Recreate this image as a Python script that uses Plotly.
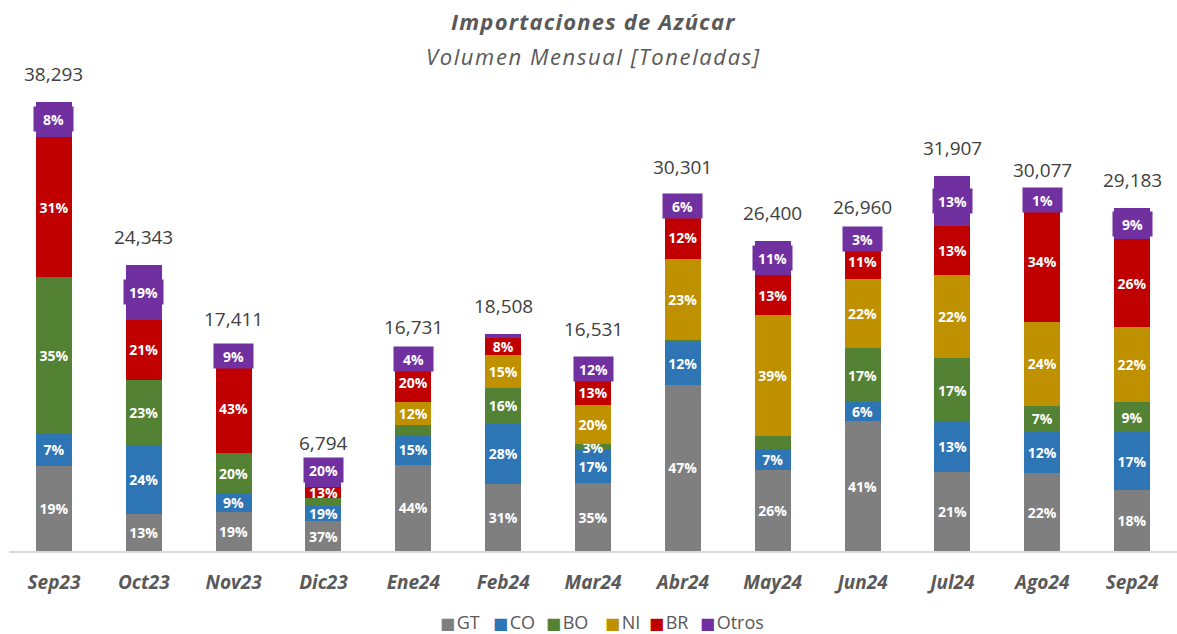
import plotly.graph_objects as go

months = ["Sep23", "Oct23", "Nov23", "Dic23", "Ene24", "Feb24", "Mar24",
          "Abr24", "May24", "Jun24", "Jul24", "Ago24", "Sep24"]
totals = [38293, 24343, 17411, 6794, 16731, 18508, 16531,
          30301, 26400, 26960, 31907, 30077, 29183]

series = ["GT", "CO", "BO", "NI", "BR", "Otros"]
pct_GT = [19, 13, 19, 37, 44, 31, 35, 47, 26, 41, 21, 22, 18]
pct_CO = [7, 24, 9, 19, 15, 28, 17, 12, 7, 6, 13, 12, 17]
pct_BO = [35, 23, 20, 11, 5, 16, 3, 0.6, 4, 17, 17, 7, 9]
pct_NI = [0, 0, 0, 0, 12, 15, 20, 23, 39, 22, 22, 24, 22]
pct_BR = [31, 21, 43, 13, 20, 8, 13, 12, 13, 11, 13, 34, 26]
pct_OT = [8, 19, 9, 20, 4, 2, 12, 6, 11, 3, 13, 1, 9]

# segments whose percentage label is not shown in the original
hidden_labels = [("BO", "Dic23"), ("BO", "Ene24"), ("Otros", "Feb24"),
                 ("BO", "Abr24"), ("BO", "May24")]

colors = {"GT": "#7F7F7F", "CO": "#2E75B6", "BO": "#548235",
          "NI": "#BF9000", "BR": "#C00000", "Otros": "#7030A0"}

pcts = {"GT": pct_GT, "CO": pct_CO, "BO": pct_BO, "NI": pct_NI,
        "BR": pct_BR, "Otros": pct_OT}

sums = [sum(pcts[s][i] for s in series) for i in range(len(months))]
values = {s: [totals[i] * pcts[s][i] / sums[i] for i in range(len(months))]
          for s in series}

FONT = "Open Sans"
PLOT_LEFT_PX, PLOT_W_PX, PLOT_TOP_PX, PLOT_H_PX = 9, 1168, 58, 493

fig = go.Figure()
for s in series:
    texts = []
    for i, m in enumerate(months):
        p = pcts[s][i]
        if p == 0 or (s, m) in hidden_labels or s == "Otros":
            texts.append("")
        else:
            texts.append(f"<b>{p:.0f}%</b>")
    fig.add_trace(go.Bar(
        name=s, x=months, y=values[s],
        marker=dict(color=colors[s], line=dict(width=0)),
        text=texts, textposition="inside", insidetextanchor="middle",
        textangle=0, textfont=dict(family=FONT, size=14, color="#FFFFFF"),
        hoverinfo="skip", showlegend=False,
    ))

annotations = []
# Otros labels drawn in purple boxes (shifted up where they would collide)
otros_label_shift = {"Dic23": 9}
for i, m in enumerate(months):
    if ("Otros", m) in hidden_labels:
        continue
    below = sum(values[s][i] for s in series[:-1])
    yc = below + values["Otros"][i] / 2
    annotations.append(dict(
        x=m, y=yc, xref="x", yref="y", showarrow=False,
        text=f"<b>{pct_OT[i]:.0f}%</b>",
        font=dict(family=FONT, size=14, color="#FFFFFF"),
        bgcolor=colors["Otros"], width=33, height=18, borderpad=3,
        yanchor="middle", yshift=otros_label_shift.get(m, 0),
    ))
# totals above the bars
for i, m in enumerate(months):
    annotations.append(dict(
        x=m, y=totals[i], xref="x", yref="y", showarrow=False,
        text=f"{totals[i]:,}", yanchor="bottom", yshift=13,
        font=dict(family=FONT, size=19, color="#404040"),
    ))
# title and subtitle
annotations.append(dict(
    x=0.5, y=1 + 37 / PLOT_H_PX, xref="paper", yref="paper", showarrow=False,
    text="<span style='letter-spacing:1.2px'><b><i>Importaciones de Azúcar</i></b></span>",
    yanchor="middle",
    font=dict(family=FONT, size=22, color="#595959"),
))
annotations.append(dict(
    x=0.5, y=1 + 2 / PLOT_H_PX, xref="paper", yref="paper", showarrow=False,
    text="<span style='letter-spacing:1.6px'><i>Volumen Mensual [Toneladas]</i></span>",
    yanchor="middle",
    font=dict(family=FONT, size=22, color="#595959"),
))
# legend (square + name), as in the original
legend_left_px = {"GT": 438, "CO": 491, "BO": 544, "NI": 603, "BR": 647, "Otros": 698}
for s in series:
    annotations.append(dict(
        x=(legend_left_px[s] - PLOT_LEFT_PX) / PLOT_W_PX,
        y=(PLOT_TOP_PX + PLOT_H_PX - 622) / PLOT_H_PX,
        xref="paper", yref="paper", showarrow=False, xanchor="left", yanchor="middle",
        text=(f"<span style='color:{colors[s]};font-family:DejaVu Sans;font-size:16px'>■</span>"
              f"<span style='font-size:6px'> </span>{s}"),
        font=dict(family=FONT, size=18, color="#595959"),
    ))

fig.update_layout(
    width=1177, height=634,
    barmode="stack", bargap=0.6,
    plot_bgcolor="#FFFFFF", paper_bgcolor="#FFFFFF",
    margin=dict(l=9, r=0, t=58, b=83),
    uniformtext=dict(minsize=14, mode="show"),
    annotations=annotations,
    showlegend=False,
    font=dict(family=FONT),
)
fig.update_xaxes(
    showline=True, linecolor="#D9D9D9", linewidth=1.5,
    tickfont=dict(family=FONT, size=19, color="#595959"),
    tickprefix="<b><i>", ticksuffix="</i></b>",
    ticks="", showgrid=False, ticklabelstandoff=13,
)
fig.update_yaxes(visible=False, range=[0, 42000], showgrid=False)

# remove the browser's default body margin so the figure fills the window exactly
fig.write_html("out.html", config={"displayModeBar": False},
               post_script="document.body.style.margin='0px';")
